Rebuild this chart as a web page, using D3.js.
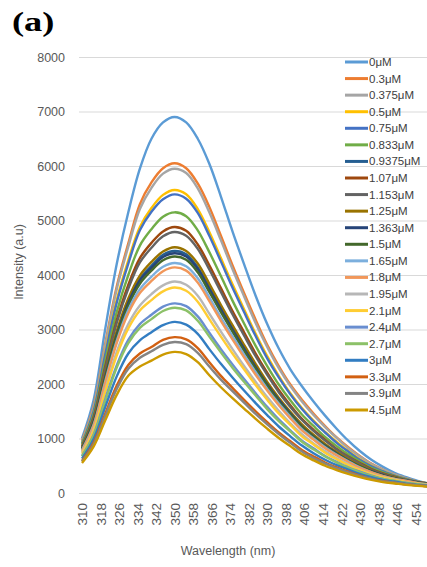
<!DOCTYPE html>
<html><head><meta charset="utf-8">
<script src="https://cdn.jsdelivr.net/npm/d3@7"></script>
<style>body{margin:0;background:#fff} svg{display:block}</style>
</head><body>
<svg id="chart" width="427" height="567"></svg>
<script>
const wavelengths = [310,315,320,325,330,335,340,345,350,355,360,365,370,375,380,385,390,395,400,405,410,415,420,425,430,435,440,445,450,455,460];
const xTickLabels = [310,318,326,334,342,350,358,366,374,382,390,398,406,414,422,430,438,446,454];
const yTicks = [0,1000,2000,3000,4000,5000,6000,7000,8000];
const concentrations = ["0μM","0.3μM","0.375μM","0.5μM","0.75μM","0.833μM","0.9375μM","1.07μM","1.153μM","1.25μM","1.363μM","1.5μM","1.65μM","1.8μM","1.95μM","2.1μM","2.4μM","2.7μM","3μM","3.3μM","3.9μM","4.5μM"];
const colors = ["#5B9BD5","#ED7D31","#A5A5A5","#FFC000","#4472C4","#70AD47","#255E91","#9E480E","#636363","#997300","#264478","#43682B","#7CAFDD","#F1975A","#B7B7B7","#FFCD33","#698ED0","#8CC168","#327DC2","#D26012","#848484","#CC9A00"];

const c0     = [1000,1700,3000,4200,5150,5950,6500,6800,6900,6800,6500,6040,5440,4800,4200,3620,3100,2650,2270,1960,1680,1420,1180,960,770,610,480,370,290,220,170];
const c0_3   = [960,1590,2730,3790,4580,5300,5700,5960,6050,5960,5680,5250,4720,4180,3670,3180,2720,2330,1990,1710,1460,1230,1020,840,680,540,430,340,270,210,170];
const c0_375 = [950,1570,2690,3740,4520,5210,5600,5860,5950,5870,5590,5150,4640,4110,3610,3120,2680,2290,1960,1680,1430,1210,1010,820,670,530,430,340,270,210,170];
const c0_5   = [920,1510,2560,3540,4270,4880,5230,5470,5560,5480,5210,4790,4310,3830,3370,2920,2510,2150,1830,1560,1330,1120,940,770,620,500,400,320,260,210,170];
const c0_75  = [910,1500,2530,3490,4210,4820,5160,5390,5480,5400,5140,4720,4250,3770,3320,2880,2470,2120,1810,1540,1310,1110,920,760,610,490,400,320,260,210,170];
const c0_833 = [890,1440,2410,3320,4000,4540,4840,5070,5150,5080,4820,4420,3980,3530,3110,2700,2330,1990,1700,1440,1230,1030,860,710,580,460,380,310,250,200,170];
const c0_9375= [820,1300,2140,2930,3520,3930,4170,4370,4440,4380,4140,3780,3400,3030,2680,2330,2010,1720,1470,1240,1050,880,740,610,500,400,330,280,230,190,160];
const c1_07  = [860,1390,2310,3170,3820,4310,4590,4800,4880,4810,4560,4180,3760,3340,2950,2560,2210,1890,1610,1360,1160,980,810,670,550,440,360,300,240,200,170];
const c1_153 = [850,1370,2270,3120,3750,4230,4500,4710,4790,4720,4480,4100,3690,3280,2890,2510,2170,1850,1580,1340,1140,960,800,660,540,430,350,290,240,200,160];
const c1_25  = [830,1320,2170,2970,3570,3990,4240,4430,4510,4440,4210,3840,3450,3080,2720,2370,2040,1750,1490,1260,1070,900,750,620,510,410,330,280,230,190,160];
const c1_363 = [810,1300,2120,2900,3490,3900,4130,4330,4400,4340,4110,3740,3370,3000,2650,2310,1990,1710,1460,1220,1040,870,730,600,490,400,330,270,230,190,160];
const c1_5   = [800,1280,2090,2870,3440,3840,4080,4270,4340,4280,4050,3690,3320,2960,2610,2280,1970,1680,1440,1210,1030,860,720,590,490,390,320,270,220,190,160];
const c1_65  = [790,1250,2040,2790,3360,3740,3970,4150,4220,4160,3940,3590,3220,2880,2540,2220,1910,1640,1400,1170,1000,840,700,580,470,380,310,260,220,180,160];
const c1_8   = [770,1230,2010,2750,3300,3670,3890,4070,4140,4080,3860,3520,3160,2820,2490,2170,1880,1610,1370,1150,980,820,690,570,460,380,310,260,220,180,150];
const c1_95  = [740,1170,1890,2590,3100,3440,3650,3810,3880,3820,3620,3290,2960,2640,2330,2040,1760,1510,1280,1080,910,770,640,530,430,350,290,250,200,170,150];
const c2_1   = [720,1140,1850,2520,3020,3350,3540,3700,3770,3710,3510,3190,2870,2560,2270,1980,1710,1460,1250,1040,890,740,620,510,420,340,280,240,200,170,140];
const c2_4   = [680,1070,1720,2340,2810,3100,3270,3420,3480,3430,3240,2940,2640,2360,2090,1830,1580,1350,1150,960,820,680,570,470,390,320,260,220,190,160,140];
const c2_7   = [670,1050,1680,2300,2750,3030,3190,3340,3400,3350,3160,2870,2580,2300,2040,1790,1540,1320,1130,940,800,670,560,460,380,310,260,220,180,160,130];
const c3     = [630,990,1570,2140,2560,2800,2950,3080,3140,3090,2920,2640,2370,2120,1880,1650,1430,1220,1040,870,730,610,510,430,350,290,240,210,170,150,130];
const c3_3   = [590,920,1450,1970,2350,2560,2680,2810,2860,2820,2660,2400,2150,1930,1710,1500,1300,1110,950,790,670,560,470,390,320,260,220,190,160,140,120];
const c3_9   = [580,890,1410,1910,2280,2480,2600,2720,2770,2730,2570,2320,2080,1870,1660,1450,1260,1080,920,760,640,540,450,380,310,260,210,190,160,140,120];
const c4_5   = [550,850,1330,1800,2150,2320,2430,2540,2590,2550,2400,2160,1940,1740,1550,1360,1180,1010,860,710,600,500,420,350,290,240,200,175,150,130,115];

const seriesValues = [c0,c0_3,c0_375,c0_5,c0_75,c0_833,c0_9375,c1_07,c1_153,c1_25,c1_363,c1_5,c1_65,c1_8,c1_95,c2_1,c2_4,c2_7,c3,c3_3,c3_9,c4_5];

const FONT = "'Liberation Sans', Arial, sans-serif";
const svg = d3.select("#chart");
const x = d3.scaleLinear().domain([310, 460]).range([82, 82 + 150 * 2.315]);
const y = d3.scaleLinear().domain([0, 8000]).range([493, 57]);
const gridLeft = 79, gridRight = 427;

// Y axis with gridlines
const yAxis = svg.append("g").attr("transform", `translate(${gridLeft},0)`)
  .call(d3.axisLeft(y).tickValues(yTicks).tickSize(-(gridRight - gridLeft)).tickPadding(14).tickFormat(d3.format("d")));
yAxis.select(".domain").remove();
yAxis.selectAll(".tick line").attr("stroke", "#d9d9d9").attr("stroke-width", 1);
yAxis.selectAll(".tick text").attr("fill", "#595959").style("font-family", FONT).style("font-size", "12.5px");

// X axis labels (rotated)
const xAxis = svg.append("g").attr("transform", `translate(0,${y(0)})`)
  .call(d3.axisBottom(x).tickValues(xTickLabels).tickSize(0).tickFormat(d3.format("d")));
xAxis.select(".domain").remove();
xAxis.selectAll(".tick text")
  .attr("transform", "rotate(-90)")
  .attr("x", -10).attr("y", 0).attr("dy", "0.35em")
  .style("text-anchor", "end")
  .attr("fill", "#595959").style("font-family", FONT).style("font-size", "13.5px");

// Lines
const line = d3.line().x((d, i) => x(wavelengths[i])).y(d => y(d)).curve(d3.curveCatmullRom.alpha(0.5));
svg.append("g").selectAll("path").data(seriesValues).join("path")
  .attr("d", d => line(d))
  .attr("fill", "none")
  .attr("stroke", (d, i) => colors[i])
  .attr("stroke-width", 2.4)
  .attr("stroke-linejoin", "round");

// Legend
const legend = svg.append("g");
const legY = d3.scaleLinear().domain([0, concentrations.length - 1]).range([62, 410]);
const items = legend.selectAll("g").data(concentrations).join("g")
  .attr("transform", (d, i) => `translate(0,${legY(i)})`);
items.append("line").attr("x1", 345).attr("x2", 368).attr("y1", 0).attr("y2", 0)
  .attr("stroke", (d, i) => colors[i]).attr("stroke-width", 3);
items.append("text").attr("x", 369).attr("y", 0).attr("dy", "0.35em")
  .text(d => d).attr("fill", "#404040").style("font-family", FONT).style("font-size", "11.5px");

// Axis titles
svg.append("text").attr("x", 228).attr("y", 555).attr("text-anchor", "middle")
  .attr("fill", "#595959").style("font-family", FONT).style("font-size", "12.5px")
  .text("Wavelength (nm)");
svg.append("text").attr("transform", "translate(23,262) rotate(-90)").attr("text-anchor", "middle")
  .attr("fill", "#595959").style("font-family", FONT).style("font-size", "12.5px")
  .text("Intensity (a.u)");

// Panel label
svg.append("text").attr("transform", "translate(12,31) scale(1.3,1)")
  .style("font-family", "'Liberation Serif', 'Times New Roman', serif").style("font-weight", "bold").style("font-size", "28px")
  .attr("fill", "#000").text("(a)");
</script>
</body></html>
